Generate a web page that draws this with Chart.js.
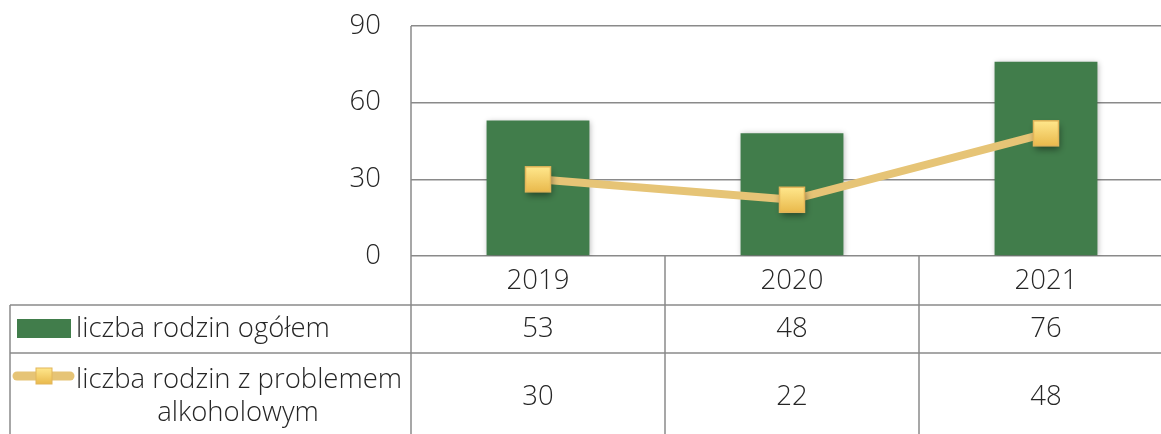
<!DOCTYPE html>
<html>
<head>
<meta charset="utf-8">
<script src="https://cdn.jsdelivr.net/npm/chart.js@4"></script>
<style>
  html, body { margin: 0; padding: 0; background: #fff; overflow: hidden; }
  #wrap { width: 1175px; height: 434px; }
</style>
</head>
<body>
<div id="wrap"><canvas id="chart" width="1175" height="434"></canvas></div>
<script>
const years = ["2019", "2020", "2021"];
const rodzinyOgolem = [53, 48, 76];
const rodzinyAlkohol = [30, 22, 48];
const yTicks = [0, 30, 60, 90];
const seriesNames = ["liczba rodzin ogółem", "liczba rodzin z problemem", "alkoholowym"];

const FONT = "'Open Sans', sans-serif";
const FSIZE = 27.5;
const TEXT = "#262626";
const GRID = "#8a8a8a";
const GREEN = "#417d4b";
const GOLD = "#e6c476";

// shadows under bars and markers
const shadowPlugin = {
  id: "shadows",
  beforeDatasetDraw(chart, args) {
    const ctx = chart.ctx;
    ctx.save();
    if (args.meta.type === "bar") {
      ctx.shadowColor = "rgba(0,0,0,0.3)";
      ctx.shadowBlur = 6;
      ctx.shadowOffsetX = 1;
      ctx.shadowOffsetY = 1;
    }
  },
  afterDatasetDraw(chart, args) {
    const ctx = chart.ctx;
    ctx.restore();
    if (args.meta.type !== "line") return;
    // gradient square markers
    args.meta.data.forEach(pt => {
      const s = 25;
      const x = pt.x - s / 2, y = pt.y - s / 2;
      ctx.save();
      ctx.shadowColor = "rgba(0,0,0,0.45)";
      ctx.shadowBlur = 7;
      ctx.shadowOffsetX = 1;
      ctx.shadowOffsetY = 4;
      const g = ctx.createLinearGradient(0, y, 0, y + s);
      g.addColorStop(0, "#ffe78c");
      g.addColorStop(1, "#e9b94c");
      ctx.fillStyle = g;
      ctx.fillRect(x, y, s, s);
      ctx.restore();
      ctx.strokeStyle = "#e2b55a";
      ctx.lineWidth = 1.5;
      ctx.strokeRect(x, y, s, s);
    });
  }
};

// data table under the plot
const tablePlugin = {
  id: "dataTable",
  afterDraw(chart) {
    const ctx = chart.ctx;
    const xs = chart.scales.x;
    const area = chart.chartArea;
    const H = chart.height;
    const row1 = 305, row2 = 353;
    const colW = xs.getPixelForValue(1) - xs.getPixelForValue(0);

    ctx.save();
    ctx.strokeStyle = GRID;
    ctx.lineWidth = 1.5;
    ctx.beginPath();
    // vertical axis through table
    ctx.moveTo(area.left, area.top);
    ctx.lineTo(area.left, H);
    // column separators
    for (let i = 0; i < years.length; i++) {
      const cx = xs.getPixelForValue(i) + colW / 2;
      ctx.moveTo(cx, area.bottom);
      ctx.lineTo(cx, H);
    }
    // left border and row lines
    ctx.moveTo(10, row1);
    ctx.lineTo(10, H);
    ctx.moveTo(10, row1);
    ctx.lineTo(area.right, row1);
    ctx.moveTo(10, row2);
    ctx.lineTo(area.right, row2);
    ctx.stroke();

    ctx.fillStyle = TEXT;
    ctx.font = "300 " + FSIZE + "px " + FONT;
    ctx.textAlign = "center";
    ctx.textBaseline = "middle";
    years.forEach((y, i) => {
      const cx = xs.getPixelForValue(i);
      ctx.fillText(y, cx, 281);
      ctx.fillText(String(rodzinyOgolem[i]), cx, 329);
      ctx.fillText(String(rodzinyAlkohol[i]), cx, 397);
    });

    // legend keys
    ctx.fillStyle = GREEN;
    ctx.fillRect(17, 319, 54, 19);
    ctx.strokeStyle = GOLD;
    ctx.lineWidth = 9;
    ctx.lineCap = "round";
    ctx.beginPath();
    ctx.moveTo(17, 376);
    ctx.lineTo(70, 376);
    ctx.stroke();
    const g = ctx.createLinearGradient(0, 368, 0, 384);
    g.addColorStop(0, "#ffe78c");
    g.addColorStop(1, "#e9b94c");
    ctx.fillStyle = g;
    ctx.fillRect(36, 368, 16, 16);
    ctx.strokeStyle = "#e2b55a";
    ctx.lineWidth = 1;
    ctx.strokeRect(36, 368, 16, 16);

    ctx.fillStyle = TEXT;
    ctx.textAlign = "left";
    ctx.fillText(seriesNames[0], 76, 329);
    ctx.fillText(seriesNames[1], 76, 380);
    ctx.textAlign = "center";
    ctx.fillText(seriesNames[2], 238, 413);
    ctx.restore();
  }
};

new Chart(document.getElementById("chart"), {
  data: {
    labels: years,
    datasets: [
      {
        type: "line",
        label: "liczba rodzin z problemem alkoholowym",
        data: rodzinyAlkohol,
        borderColor: GOLD,
        borderWidth: 8,
        pointStyle: "rect",
        pointRadius: 0,
        pointHoverRadius: 0,
        tension: 0,
        order: 0
      },
      {
        type: "bar",
        label: "liczba rodzin ogółem",
        data: rodzinyOgolem,
        backgroundColor: GREEN,
        categoryPercentage: 1,
        barPercentage: 0.405,
        order: 1
      }
    ]
  },
  options: {
    responsive: false,
    animation: false,
    layout: { padding: { top: 26, right: 2, left: 0, bottom: 0 } },
    plugins: {
      legend: { display: false },
      tooltip: { enabled: false }
    },
    scales: {
      x: {
        ticks: { display: false },
        grid: { display: false },
        border: { display: false },
        afterFit(scale) { scale.height = 178; }
      },
      y: {
        min: 0,
        max: 90,
        afterBuildTicks(scale) { scale.ticks = yTicks.map(v => ({ value: v })); },
        ticks: {
          padding: 30,
          color: TEXT,
          font: { family: FONT, size: FSIZE, weight: "300" }
        },
        grid: { color: GRID, lineWidth: 1.5, drawTicks: false },
        border: { display: false },
        afterFit(scale) {
          scale.width = 411;
          scale.paddingTop = 0;
          scale.paddingBottom = 0;
        }
      }
    }
  },
  plugins: [shadowPlugin, tablePlugin]
});
</script>
</body>
</html>
